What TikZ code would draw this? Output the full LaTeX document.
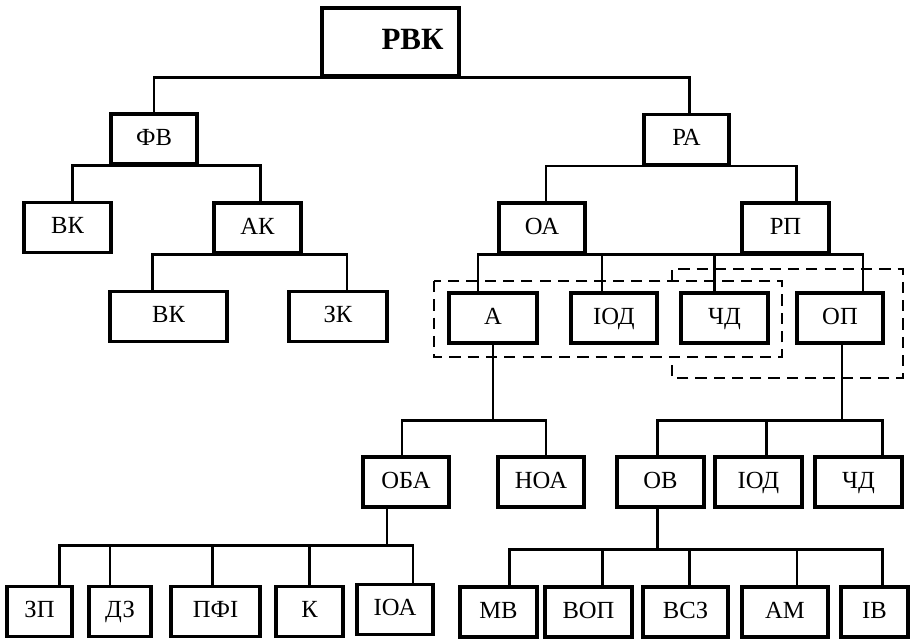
\documentclass[tikz,border=0pt]{standalone}
\usepackage{fontspec}
\setmainfont{Liberation Serif}
\usetikzlibrary{calc}

\tikzset{
  blk/.style={draw, line width=2.2pt, minimum height=1.25cm, inner sep=0pt,
    text height=12pt, text depth=3pt, font=\fontsize{17.5}{20}\selectfont},
  conn/.style={line width=2pt},
  grp/.style={line width=2pt, dash pattern=on 8pt off 5pt}
}

\begin{document}
\begin{tikzpicture}[x=0.025cm, y=-0.025cm]
    \useasboundingbox (0,0) rectangle (910,639);
    % Below nodes are the boxes, row by row.
        \node[blk, minimum width=3.425cm, minimum height=1.7cm, text height=15pt, text depth=4pt,
          font=\fontsize{22}{25}\selectfont\bfseries] (rvk) at (390.5,42) {\hspace*{1.1cm}РВК};
        \node[blk, minimum width=2.15cm] (fv) at (154,139) {ФВ};
        \node[blk, minimum width=2.125cm] (ra) at (686.5,139.5) {РА};
        \node[blk, minimum width=2.175cm] (vk1) at (67.5,227.5) {ВК};
        \node[blk, minimum width=2.175cm] (ak) at (257.5,228) {АК};
        \node[blk, minimum width=2.15cm] (oa) at (542,228) {ОА};
        \node[blk, minimum width=2.175cm] (rp) at (785.5,228) {РП};
        \node[blk, minimum width=2.925cm] (vk2) at (168.5,316.5) {ВК};
        \node[blk, minimum width=2.45cm] (zk) at (338,316.5) {ЗК};
        \node[blk, minimum width=2.2cm] (a) at (493,318) {А};
        \node[blk, minimum width=2.15cm] (iod1) at (614,318) {ІОД};
        \node[blk, minimum width=2.175cm] (chd1) at (724.5,318) {ЧД};
        \node[blk, minimum width=2.15cm] (op) at (840,318) {ОП};
        \node[blk, minimum width=2.15cm] (oba) at (406,482) {ОБА};
        \node[blk, minimum width=2.15cm] (noa) at (541,482) {НОА};
        \node[blk, minimum width=2.175cm] (ob) at (660.5,482) {ОВ};
        \node[blk, minimum width=2.175cm] (iod2) at (758.5,482) {ІОД};
        \node[blk, minimum width=2.175cm] (chd2) at (858.5,482) {ЧД};
        \node[blk, minimum width=1.625cm] (zp) at (39.5,611.5) {ЗП};
        \node[blk, minimum width=1.55cm] (dz) at (120,611.5) {ДЗ};
        \node[blk, minimum width=2.225cm] (pfi) at (215.5,611.5) {ПФІ};
        \node[blk, minimum width=1.675cm] (k) at (309.5,611.5) {К};
        \node[blk, minimum width=1.9cm] (ioa) at (395,609.5) {ІОА};
        \node[blk, minimum width=1.925cm] (mb) at (498.5,612) {МВ};
        \node[blk, minimum width=2.175cm] (bop) at (588.5,612) {ВОП};
        \node[blk, minimum width=2.125cm] (bsz) at (685.5,612) {ВСЗ};
        \node[blk, minimum width=2.15cm] (am) at (785,612) {АМ};
        \node[blk, minimum width=1.675cm] (ib) at (874.5,612) {ІВ};
    % This draws the upper branches.
        \draw[conn] (rvk.south) -| (fv.north);
        \draw[conn] (rvk.south) -| ($(ra.north)+(3,0)$);
        \draw[conn] (fv.south) -| ($(vk1.north)+(5,0)$);
        \draw[conn] (fv.south) -| ($(ak.north)+(3,0)$);
        \draw[conn] (ak.south) -| ($(vk2.north)+(-16,0)$);
        \draw[conn] (ak.south) -| ($(zk.north)+(9,0)$);
        \draw[conn] (ra.south) -| ($(oa.north)+(4,0)$);
        \draw[conn] (ra.south) -| ($(rp.north)+(11,0)$);
        \draw[conn] (oa.south) -- (rp.south);
        \draw[conn] (oa.south) -| ($(a.north)+(-15,0)$);
        \draw[conn] (oa.south) -| ($(iod1.north)+(-12,0)$);
        \draw[conn] (rp.south) -| ($(chd1.north)+(-10,0)$);
        \draw[conn] (rp.south) -| ($(op.north)+(23,0)$);
    % This draws the lower branches.
        \draw[conn] (a.south) -- ++(0,76) -| ($(oba.north)+(-4,0)$);
        \draw[conn] (a.south) -- ++(0,76) -| ($(noa.north)+(5,0)$);
        \draw[conn] ($(op.south)+(2,0)$) -- ++(0,76) -| ($(ob.north)+(-3,0)$);
        \draw[conn] ($(op.south)+(2,0)$) -- ++(0,76) -| ($(iod2.north)+(8,0)$);
        \draw[conn] ($(op.south)+(2,0)$) -- ++(0,76) -| ($(chd2.north)+(24,0)$);
        \draw[conn] ($(oba.south)+(-19,0)$) -- ++(0,37) -| ($(zp.north)+(20,0)$);
        \draw[conn] ($(oba.south)+(-19,0)$) -- ++(0,37) -| ($(dz.north)+(-10,0)$);
        \draw[conn] ($(oba.south)+(-19,0)$) -- ++(0,37) -| ($(pfi.north)+(-3,0)$);
        \draw[conn] ($(oba.south)+(-19,0)$) -- ++(0,37) -| (k.north);
        \draw[conn] ($(oba.south)+(-19,0)$) -- ++(0,37) -| ($(ioa.north)+(18,0)$);
        \draw[conn] ($(ob.south)+(-3,0)$) -- ++(0,41) -| ($(mb.north)+(11,0)$);
        \draw[conn] ($(ob.south)+(-3,0)$) -- ++(0,41) -| ($(bop.north)+(14,0)$);
        \draw[conn] ($(ob.south)+(-3,0)$) -- ++(0,41) -| ($(bsz.north)+(4,0)$);
        \draw[conn] ($(ob.south)+(-3,0)$) -- ++(0,41) -| ($(am.north)+(12,0)$);
        \draw[conn] ($(ob.south)+(-3,0)$) -- ++(0,41) -| ($(ib.north)+(8,0)$);
    % Dashed groups.
        \draw[grp] (434,281) rectangle (782,357);
        \draw[grp] (672,281) -- (672,269) -- (903,269) -- (903,378) -- (672,378) -- (672,357);
\end{tikzpicture}
\end{document}
